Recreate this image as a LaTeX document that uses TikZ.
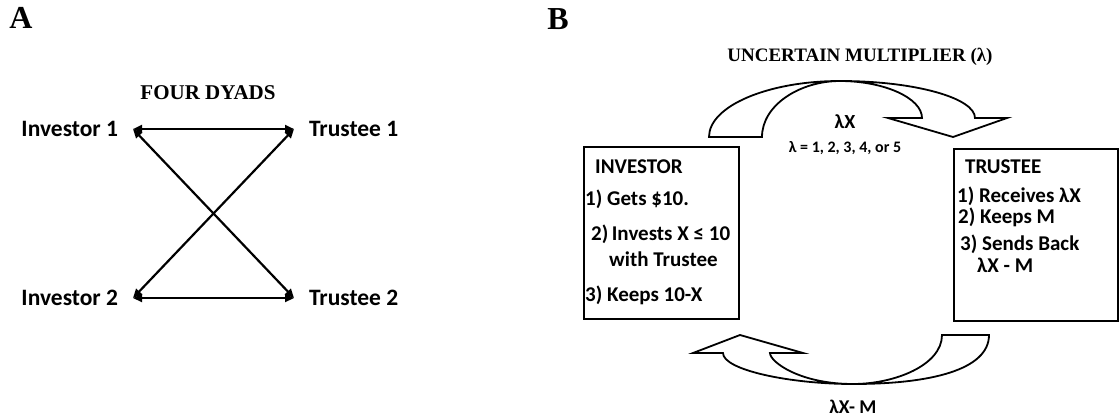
\documentclass[tikz,border=0pt]{standalone}
\usepackage{fontspec}
\setmainfont{Carlito}
\newfontfamily\serifhd{Liberation Serif}
\usetikzlibrary{arrows.meta}
\tikzset{
  who/.style={font=\fontsize{23.5}{26}\selectfont\bfseries,inner sep=1pt,outer xsep=14pt},
  hdr/.style={font=\serifhd\fontsize{#1}{22}\selectfont\bfseries,inner sep=0pt},
  tag/.style={font=\serifhd\fontsize{32}{36}\selectfont\bfseries,inner sep=0pt},
  item/.style={font=\fontsize{21}{24}\selectfont\bfseries,inner sep=0pt,anchor=base west},
  note/.style={font=\fontsize{#1}{#1}\selectfont\bfseries,inner sep=0pt},
  panel/.style={draw,line width=2.2pt,inner sep=0pt,anchor=north west},
  dyad/.style={{Triangle[length=9pt,width=8pt]}-{Triangle[length=9pt,width=8pt]},line width=2.2pt},
  flow/.style={line width=1.8pt,line join=miter},
}

\begin{document}
\begin{tikzpicture}[x=1pt,y=-1pt]
  \useasboundingbox (0,0) rectangle (1120,418);
  \node[tag] (tagA) at (21,18) {A};
  \node[tag] (tagB) at (558,19) {B};
  \node[hdr=21] (dyads) at (208,93) {FOUR DYADS};
  \foreach \n/\y in {1/129,2/298}{
    \node[who,anchor=east] (inv\n) at (133,\y) {Investor \n};
    \node[who,anchor=west] (tru\n) at (294,\y) {Trustee \n};}
  \draw[dyad] (inv1.east) -- (tru1.west);
  \draw[dyad] (inv1.east) -- (tru2.west);
  \draw[dyad] (inv2.east) -- (tru1.west);
  \draw[dyad] (inv2.east) -- (tru2.west);

  \node[hdr=19] (mult) at (860,57) {UNCERTAIN MULTIPLIER (λ)};
  \node[panel,minimum width=155pt,minimum height=172pt] (invbox) at (583,146) {};
  \node[panel,minimum width=164pt,minimum height=172pt] (trubox) at (953,148) {};
  \foreach \x/\y/\t [count=\i] in {595/173/INVESTOR, 585/205/{1) Gets \$10.},
      591/240/{2)\,Invests X ≤ 10}, 609/266/{with Trustee}, 585/301/{3) Keeps 10-X}}
    \node[item] (inv-\i) at (\x,\y) {\t};
  \foreach \x/\y/\t [count=\i] in {965/173/TRUSTEE, 957/202/{1) Receives λX},
      958/223/{2) Keeps M}, 960/250/{3) Sends Back}, 977/272/{λX - M}}
    \node[item] (tru-\i) at (\x,\y) {\t};

  \draw[flow] (709,137) -- (762,137) .. controls (762,105) and (800,81) .. (840,81)
    .. controls (884,81) and (922,98) .. (922,118) -- (888,118) -- (953,137) -- (1007,118)
    -- (975,118) .. controls (975,98) and (915,81) .. (840,81)
    .. controls (768,81) and (709,106) .. cycle;
  \draw[flow] (942,335) -- (989,335) .. controls (989,370) and (930,384) .. (853,384)
    .. controls (790,384) and (723,370) .. (723,353) -- (693,353) -- (740,335) -- (803,353)
    -- (770,353) .. controls (770,362) and (800,384) .. (853,384)
    .. controls (895,384) and (942,365) .. cycle;
  \node[note=20] (gain) at (845,122) {λX};
  \node[note=16] (range) at (845,148) {λ = 1, 2, 3, 4, or 5};
  \node[note=19.5] (back) at (853,407) {λX- M};
\end{tikzpicture}
\end{document}
